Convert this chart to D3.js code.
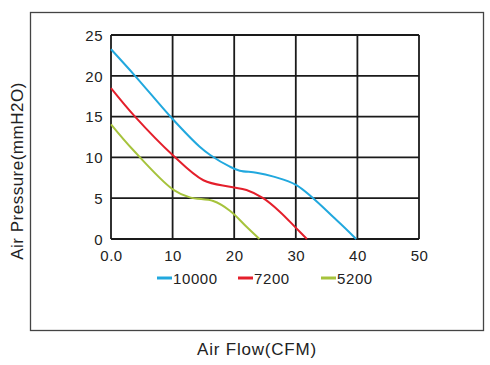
<!DOCTYPE html>
<html>
<head>
<meta charset="utf-8">
<script src="https://cdn.jsdelivr.net/npm/d3@7"></script>
<style>
  body { margin: 0; background: #fff; }
  text { font-family: "Liberation Sans", Arial, sans-serif; fill: #222; }
</style>
</head>
<body>
<div id="chart"></div>
<script>
const xTicks = [0, 10, 20, 30, 40, 50];
const yTicks = [0, 5, 10, 15, 20, 25];

const flow10000 = [0, 3.9, 10, 14.4, 16.1, 19.3, 20.9, 23.6, 26.4, 30.1, 36.6, 39.8];
const pres10000 = [23.25, 20.0, 14.7, 11.3, 10.3, 8.86, 8.37, 8.13, 7.64, 6.6, 2.33, 0];

const flow7200 = [0, 3.9, 10, 15, 19.3, 22, 24.7, 27.4, 30.1, 31.8];
const pres7200 = [18.5, 15.0, 10.3, 7.2, 6.4, 6.0, 5.0, 3.35, 1.3, 0];

const flow5200 = [0, 3.6, 10, 12.8, 16.6, 19.3, 22, 24.1];
const pres5200 = [14.05, 10.9, 6.1, 5.1, 4.65, 3.47, 1.5, 0];

const seriesNames = ["10000", "7200", "5200"];
const colors = ["#21a8de", "#e41f2b", "#a6c33c"];

const width = 490, height = 365;
const margin = { top: 35, right: 71, bottom: 126, left: 111 };

let svg = d3.select("#chart")
    .append("svg")
    .attr("width", width)
    .attr("height", height);

// outer frame
svg.append("rect")
    .attr("x", 30.5).attr("y", 12.5)
    .attr("width", 453).attr("height", 318)
    .attr("fill", "none")
    .attr("stroke", "#444")
    .attr("stroke-width", 1.3);

const x = d3.scaleLinear().domain([0, 50]).range([margin.left, width - margin.right]);
const y = d3.scaleLinear().domain([0, 25]).range([height - margin.bottom, margin.top]);

let grid = svg.append("g");
grid.selectAll(".vline")
    .data(xTicks)
    .join("line")
    .attr("x1", d => x(d)).attr("x2", d => x(d))
    .attr("y1", y(0)).attr("y2", y(25))
    .attr("stroke", "#1a1a1a").attr("stroke-width", 1.8);
grid.selectAll(".hline")
    .data(yTicks)
    .join("line")
    .attr("x1", x(0)).attr("x2", x(50))
    .attr("y1", d => y(d)).attr("y2", d => y(d))
    .attr("stroke", "#1a1a1a").attr("stroke-width", 1.8);

// tick labels
svg.append("g")
    .attr("transform", `translate(0,${y(0) + 8})`)
    .call(d3.axisBottom(x).tickValues(xTicks).tickSize(0)
        .tickFormat(d => d === 0 ? "0.0" : d))
    .call(g => g.select(".domain").remove())
    .selectAll("text")
    .attr("font-size", 15).attr("fill", "#222")
    .style("letter-spacing", "0.5px");

svg.append("g")
    .attr("transform", `translate(${x(0) - 5},0)`)
    .call(d3.axisLeft(y).tickValues(yTicks).tickSize(0))
    .call(g => g.select(".domain").remove())
    .selectAll("text")
    .attr("font-size", 15).attr("fill", "#222").attr("dy", "0.35em")
    .style("letter-spacing", "0.5px");

const flows = [flow10000, flow7200, flow5200];
const pressures = [pres10000, pres7200, pres5200];

const line = d3.line()
    .x(d => x(d[0]))
    .y(d => y(d[1]))
    .curve(d3.curveCatmullRom.alpha(0.5));

seriesNames.forEach((name, i) => {
    let pts = flows[i].map((f, j) => [f, pressures[i][j]]);
    svg.append("path")
        .datum(pts)
        .attr("d", line)
        .attr("fill", "none")
        .attr("stroke", colors[i])
        .attr("stroke-width", 2);
});

// legend
const legendX = [157, 238, 321];
let legend = svg.append("g");
seriesNames.forEach((name, i) => {
    legend.append("line")
        .attr("x1", legendX[i]).attr("x2", legendX[i] + 15)
        .attr("y1", 278).attr("y2", 278)
        .attr("stroke", colors[i]).attr("stroke-width", 3);
    legend.append("text")
        .attr("x", legendX[i] + 16).attr("y", 283.5)
        .attr("font-size", 15)
        .style("letter-spacing", "0.6px")
        .text(name);
});

// axis titles
svg.append("text")
    .attr("x", 257).attr("y", 355)
    .attr("text-anchor", "middle")
    .attr("font-size", 17)
    .style("letter-spacing", "0.8px")
    .text("Air Flow(CFM)");

svg.append("text")
    .attr("transform", "translate(23,171) rotate(-90)")
    .attr("text-anchor", "middle")
    .attr("font-size", 17)
    .style("letter-spacing", "0.5px")
    .text("Air Pressure(mmH2O)");
</script>
</body>
</html>
